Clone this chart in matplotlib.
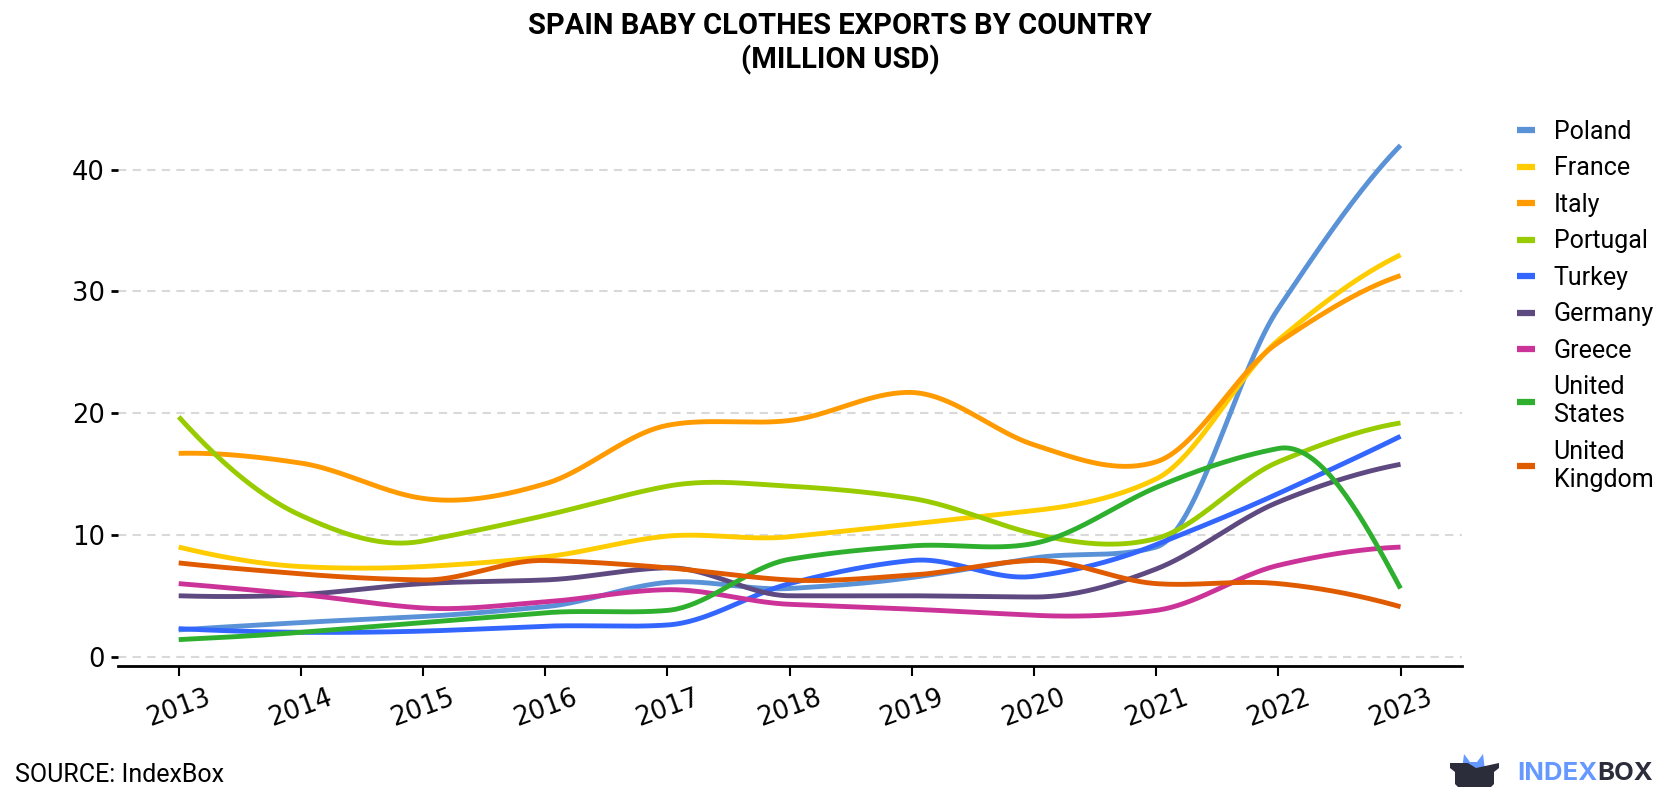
import numpy as np
import matplotlib.pyplot as plt
from matplotlib.patches import Polygon

plt.rcParams['font.family'] = ['Roboto', 'DejaVu Sans']

years = [2013, 2014, 2015, 2016, 2017, 2018, 2019, 2020, 2021, 2022, 2023]

poland = [2.2, 2.8, 3.3, 4.1, 6.1, 5.6, 6.5, 8.1, 9.0, 28.6, 42.0]
france = [9.0, 7.4, 7.4, 8.2, 9.9, 9.85, 10.9, 12.0, 14.6, 26.0, 33.0]
italy = [16.7, 15.9, 13.0, 14.2, 19.0, 19.4, 21.7, 17.4, 16.0, 25.8, 31.3]
portugal = [19.7, 11.6, 9.5, 11.6, 14.0, 14.0, 13.0, 10.1, 9.7, 16.0, 19.2]
turkey = [2.3, 2.0, 2.1, 2.5, 2.6, 6.0, 7.9, 6.6, 9.2, 13.4, 18.1]
germany = [5.0, 5.1, 6.0, 6.3, 7.3, 5.0, 5.0, 4.9, 7.2, 12.7, 15.8]
greece = [6.0, 5.1, 4.0, 4.5, 5.5, 4.3, 3.9, 3.4, 3.8, 7.5, 9.0]
usa = [1.4, 2.0, 2.8, 3.6, 3.8, 8.0, 9.1, 9.3, 13.9, 17.1, 5.6]
uk = [7.7, 6.8, 6.3, 7.9, 7.3, 6.3, 6.7, 7.9, 6.0, 6.0, 4.1]

names = ['Poland', 'France', 'Italy', 'Portugal', 'Turkey', 'Germany', 'Greece',
         'United\nStates', 'United\nKingdom']
series = [poland, france, italy, portugal, turkey, germany, greece, usa, uk]
colors = ['#5A92D8', '#FFCC00', '#FF9A00', '#99CC00', '#3366FF', '#5E4A80',
          '#CC3399', '#2EB02E', '#E05A00']


def smooth(x, y, n=40):
    # akima spline (no scipy here, so done by hand)
    x = np.asarray(x, float)
    y = np.asarray(y, float)
    h = np.diff(x)
    m = np.diff(y) / h
    mm = 2 * m[0] - m[1]
    mmm = 2 * mm - m[0]
    mp = 2 * m[-1] - m[-2]
    mpp = 2 * mp - m[-1]
    m1 = np.concatenate([[mmm, mm], m, [mp, mpp]])
    dm = np.abs(np.diff(m1))
    f1 = dm[2:]
    f2 = dm[:-2]
    f12 = f1 + f2
    t = 0.5 * (m1[3:] + m1[:-3])
    ok = f12 > 1e-9 * f12.max()
    t[ok] = (f1[ok] * m1[1:-2][ok] + f2[ok] * m1[2:-1][ok]) / f12[ok]
    xs, ys = [], []
    for i in range(len(x) - 1):
        u = np.linspace(0, 1, n, endpoint=False)
        h00 = 2 * u**3 - 3 * u**2 + 1
        h10 = u**3 - 2 * u**2 + u
        h01 = -2 * u**3 + 3 * u**2
        h11 = u**3 - u**2
        xs.append(x[i] + u * h[i])
        ys.append(h00 * y[i] + h10 * h[i] * t[i] + h01 * y[i + 1] + h11 * h[i] * t[i + 1])
    xs.append([x[-1]])
    ys.append([y[-1]])
    return np.concatenate(xs), np.concatenate(ys)


fig = plt.figure(figsize=(16.8, 8), dpi=100)
ax = fig.add_axes([0.070, 0.167, 0.800, 0.697])

for name, vals, c in zip(names, series, colors):
    sx, sy = smooth(years, vals)
    ax.plot(sx, sy, color=c, lw=3.5, label=name, solid_capstyle='butt')

ax.set_xlim(2012.5, 2023.5)
ax.set_ylim(-0.8, 45)
ax.set_yticks([0, 10, 20, 30, 40])
ax.set_xticks(years)
ax.set_xticklabels([str(y) for y in years], rotation=20, fontsize=18.5,
                   family='DejaVu Sans')
for lab in ax.get_yticklabels():
    lab.set_family('DejaVu Sans')
ax.tick_params(axis='y', labelsize=18.5, length=5, width=2, pad=4)
ax.tick_params(axis='x', length=7, width=1.5, pad=6)
ax.grid(axis='y', color='#d9d9d9', ls=(0, (4, 3)), lw=1.5)
ax.set_axisbelow(True)
for s in ['left', 'right', 'top']:
    ax.spines[s].set_visible(False)
ax.spines['bottom'].set_linewidth(2)

leg = ax.legend(loc='upper left', bbox_to_anchor=(1.034, 0.998), frameon=False,
                fontsize=18, handlelength=0.7, handletextpad=0.75,
                labelspacing=0.5, borderaxespad=0)
for line in leg.get_lines():
    line.set_linewidth(4.5)
for txt in leg.get_texts():
    txt.set_linespacing(1.2)

fig.text(0.5, 0.985, 'SPAIN BABY CLOTHES EXPORTS BY COUNTRY\n(MILLION USD)',
         ha='center', va='top', fontsize=21, fontweight='bold', linespacing=1.2)
fig.text(0.009, 0.031, 'SOURCE: IndexBox', fontsize=18, va='center')

# logo
ears = Polygon([(1462, 30), (1464, 46), (1470, 38), (1477, 38), (1483, 46),
                (1485, 30)], closed=True, transform=None,
               facecolor='#6699FF', edgecolor='none')
box = Polygon([(1450, 37), (1468, 37), (1476, 32), (1499, 37), (1499, 32),
               (1494, 28), (1494, 16), (1491, 13), (1458, 13), (1455, 16),
               (1455, 28), (1450, 32)],
              closed=True, transform=None, facecolor='#2B2D3A', edgecolor='none')
fig.patches.extend([ears, box])
t1 = fig.text(1517 / 1680, 0.0325, 'INDEX', color='#6699FF', fontsize=18.5,
              fontweight='bold', va='center', family='Inter')
fig.canvas.draw()
bb = t1.get_window_extent()
fig.text(bb.x1 / 1680, 0.0325, 'BOX', color='#2B2D3A', fontsize=18.5,
         fontweight='bold', va='center', family='Inter')

fig.savefig('out.png', dpi=100)
